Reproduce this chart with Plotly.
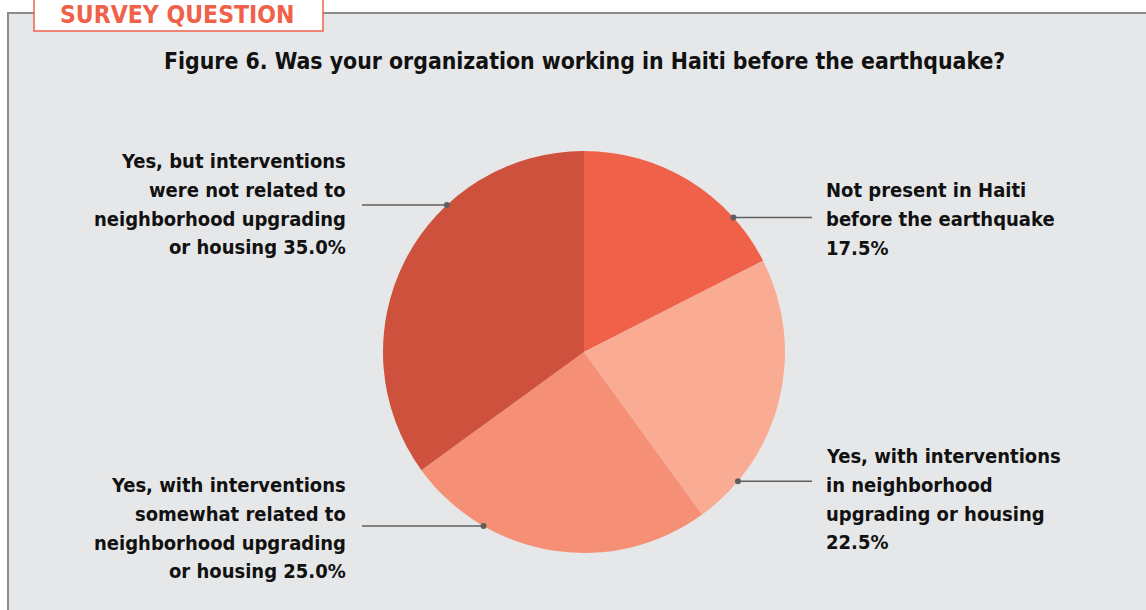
import math
import plotly.graph_objects as go

# Survey responses (share of organizations, %)
categories = [
    ["Not present in Haiti", "before the earthquake"],
    ["Yes, with interventions", "in neighborhood", "upgrading or housing"],
    ["Yes, with interventions", "somewhat related to", "neighborhood upgrading", "or housing"],
    ["Yes, but interventions", "were not related to", "neighborhood upgrading", "or housing"],
]
values = [17.5, 22.5, 25.0, 35.0]
colors = ["#f0614a", "#f9ab93", "#f59076", "#cd513d"]

title_text = "Figure 6. Was your organization working in Haiti before the earthquake?"
tab_text = "SURVEY QUESTION"

W, H = 1146, 610
FONT = "DejaVu Sans Condensed"

# pie geometry in pixels
cx, cy, r = 584, 352, 201

def px(x):
    return x / W

def py(y):
    return 1 - y / H

fig = go.Figure()
fig.add_trace(go.Pie(
    values=values,
    labels=[" ".join(c) for c in categories],
    sort=False,
    direction="clockwise",
    rotation=0,
    marker=dict(colors=colors, line=dict(width=0)),
    textinfo="none",
    hoverinfo="label+percent",
    showlegend=False,
    domain=dict(x=[px(cx - r), px(cx + r)], y=[py(cy + r), py(cy - r)]),
))

shapes = []
annotations = []

# panel background and frame
shapes.append(dict(type="rect", xref="paper", yref="paper",
                   x0=px(8), x1=px(W + 5), y0=py(H + 5), y1=py(13),
                   fillcolor="#e6e7e8", line=dict(color="#8c8c8c", width=2),
                   layer="below"))
# tab box
shapes.append(dict(type="rect", xref="paper", yref="paper",
                   x0=px(34), x1=px(323), y0=py(31), y1=py(-5),
                   fillcolor="#ffffff", line=dict(color="#f0614a", width=1.5),
                   layer="below"))
annotations.append(dict(text="<b>" + tab_text + "</b>", xref="paper", yref="paper",
                        x=px(177), y=py(14), xanchor="center", yanchor="middle",
                        showarrow=False, font=dict(family=FONT, size=24.5, color="#f0614a")))

annotations.append(dict(text="<b>" + title_text + "</b>", xref="paper", yref="paper",
                        x=px(584), y=py(61), xanchor="center", yanchor="middle",
                        showarrow=False, font=dict(family=FONT, size=22.8, color="#111111")))

# label placement: anchor angle on rim (deg clockwise from top), side, first line centre y
anchor_deg = [48, 130, 210, 317]
label_side = ["right", "right", "left", "left"]
label_top = [190, 456, 485, 161]
line_step = 28.8

for cat, v, a, side, ly in zip(categories, values, anchor_deg, label_side, label_top):
    t = math.radians(a)
    dx = cx + r * math.sin(t)
    dy = cy - r * math.cos(t)
    ex = 812 if side == "right" else 362
    shapes.append(dict(type="line", xref="paper", yref="paper",
                       x0=px(dx), x1=px(ex), y0=py(dy), y1=py(dy),
                       line=dict(color="#5f5f5f", width=1.5)))
    shapes.append(dict(type="circle", xref="paper", yref="paper",
                       x0=px(dx - 3), x1=px(dx + 3), y0=py(dy + 3), y1=py(dy - 3),
                       fillcolor="#5f5f5f", line=dict(width=0)))
    pct = f"{v:.1f}%"
    if side == "right":
        lines = cat + [pct]
    else:
        lines = cat[:-1] + [cat[-1] + " " + pct]
    for i, ln in enumerate(lines):
        annotations.append(dict(
            text="<b>" + ln + "</b>", xref="paper", yref="paper",
            x=px(824) if side == "right" else px(348), y=py(ly + i * line_step),
            xanchor="left" if side == "right" else "right", yanchor="middle",
            showarrow=False, font=dict(family=FONT, size=20, color="#111111")))

fig.update_layout(
    width=W, height=H,
    margin=dict(l=0, r=0, t=0, b=0),
    paper_bgcolor="#ffffff",
    plot_bgcolor="#ffffff",
    shapes=shapes,
    annotations=annotations,
)

fig.write_html("out.html")
